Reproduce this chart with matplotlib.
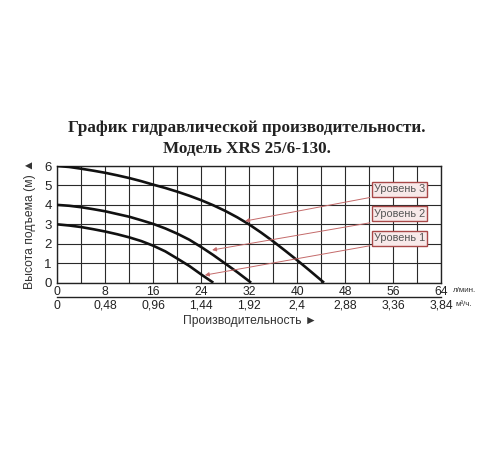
import matplotlib
matplotlib.use('Agg')
import matplotlib.pyplot as plt

# pump curves: flow in l/min, head in m
level3_q = [0, 2, 4, 6, 8, 10, 12, 14, 16, 18, 20, 22, 24, 26, 28, 30, 32, 34, 36, 38, 40, 42, 44, 44.45]
level3_h = [6.0, 5.95, 5.86, 5.76, 5.65, 5.52, 5.38, 5.22, 5.04, 4.87, 4.68, 4.47, 4.24, 3.98,
            3.69, 3.36, 2.99, 2.57, 2.12, 1.64, 1.15, 0.64, 0.12, 0.0]
level2_q = [0, 2, 4, 6, 8, 10, 12, 14, 16, 18, 20, 22, 24, 26, 28, 30, 32, 32.3]
level2_h = [4.0, 3.955, 3.88, 3.78, 3.67, 3.53, 3.39, 3.21, 3.02, 2.79, 2.52, 2.21, 1.83,
            1.42, 0.98, 0.54, 0.07, 0.0]
level1_q = [0, 2, 4, 6, 8, 10, 12, 14, 16, 18, 20, 22, 24, 26]
level1_h = [3.0, 2.94, 2.86, 2.75, 2.63, 2.49, 2.33, 2.14, 1.90, 1.61, 1.24, 0.86, 0.42, 0.0]

labels = ['Уровень 3', 'Уровень 2', 'Уровень 1']
label_y = [4.8, 3.55, 2.28]
arrow_from = [(52.1, 4.38), (52.1, 3.08), (52.1, 1.9)]
arrow_to = [(31.3, 3.17), (25.8, 1.68), (24.6, 0.39)]

lpm_ticks = [0, 8, 16, 24, 32, 40, 48, 56, 64]
m3h_ticks = [0, 0.48, 0.96, 1.44, 1.92, 2.4, 2.88, 3.36, 3.84]
m3h_labels = ['0', '0,48', '0,96', '1,44', '1,92', '2,4', '2,88', '3,36', '3,84']

sans = ['Liberation Sans', 'DejaVu Sans']
serif = ['Liberation Serif', 'DejaVu Serif']
plt.rcParams['font.family'] = sans

fig = plt.figure(figsize=(5, 4.5), dpi=100)
ax = fig.add_axes([0.1146, 0.3718, 0.768, 0.2593])

for q, h in [(level3_q, level3_h), (level2_q, level2_h), (level1_q, level1_h)]:
    ax.plot(q, h, color='#111111', linewidth=1.9, solid_capstyle='butt',
            solid_joinstyle='round', zorder=3)

ax.set_xlim(0, 64)
ax.set_ylim(0, 6)
ax.set_yticks(range(0, 7))
ax.set_xticks(lpm_ticks)
ax.set_xticks(range(0, 65, 4), minor=True)
ax.grid(True, color='#2a2a2a', linewidth=0.8)
ax.grid(True, which='minor', axis='x', color='#2a2a2a', linewidth=0.8)
for s in ax.spines.values():
    s.set_linewidth(1.0)
    s.set_color('#222222')
ax.tick_params(axis='both', length=0, colors='#222222')
ax.tick_params(axis='x', which='minor', length=0)
ax.tick_params(axis='x', labelsize=8.7, pad=2.5)
ax.tick_params(axis='y', labelsize=9.5, pad=4)

# second flow scale in m3/h, with its own line under the l/min labels
sec = ax.secondary_xaxis(-0.1225, functions=(lambda x: x * 0.06, lambda x: x / 0.06))
sec.set_xticks(m3h_ticks)
sec.set_xticklabels(m3h_labels)
sec.tick_params(length=0, labelsize=8.7, colors='#222222', pad=2)
sec.spines['bottom'].set_linewidth(1.0)
sec.spines['bottom'].set_color('#222222')

ax.text(1.03, -0.068, 'л/мин.', transform=ax.transAxes, fontsize=5.8,
        va='center', ha='left', color='#333333')
ax.text(1.036, -0.19, 'м³/ч.', transform=ax.transAxes, fontsize=5.8,
        va='center', ha='left', color='#333333')

for lab, ly, (x0, y0), (x1, y1) in zip(labels, label_y, arrow_from, arrow_to):
    ax.annotate('', xy=(x1, y1), xytext=(x0, y0),
                arrowprops=dict(arrowstyle='-|>', color='#c46a6a', lw=0.7,
                                mutation_scale=6, shrinkA=0, shrinkB=0),
                zorder=4)
    ax.text(57.0, ly, lab, fontsize=7.8, color='#555555', ha='center', va='center',
            zorder=5,
            bbox=dict(boxstyle='square,pad=0.2', fc='#f8e9e9', ec='#a84848', lw=1.0))

ax.set_ylabel('Высота подъема (м) ▲', fontsize=8.7, color='#333333', labelpad=6)
fig.text(0.5, 0.287, 'Производительность ►', fontsize=8.7, color='#333333',
         ha='center', va='center')

fig.text(0.494, 0.716, 'График гидравлической производительности.',
         family=serif, fontweight='bold', fontsize=12.3,
         ha='center', va='center', color='#222222')
fig.text(0.494, 0.669, 'Модель XRS 25/6-130.',
         family=serif, fontweight='bold', fontsize=12.3,
         ha='center', va='center', color='#222222')

fig.savefig('out.png', dpi=100, facecolor='white')
